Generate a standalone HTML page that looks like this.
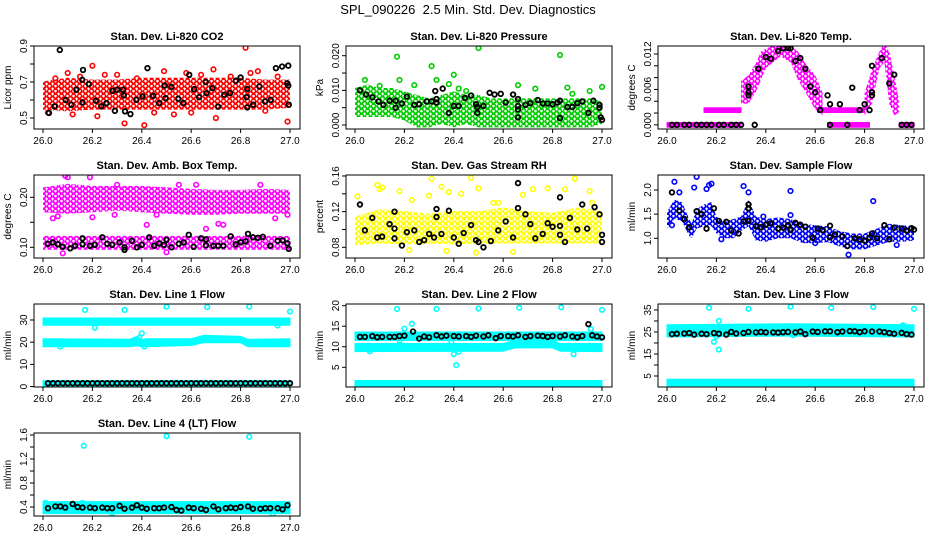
<!DOCTYPE html>
<html><head><meta charset="utf-8"><style>
body{margin:0;background:#fff;}
svg{display:block;font-family:"Liberation Sans",sans-serif;}
</style></head><body>
<svg id="chart" width="936" height="540" viewBox="0 0 936 540">
<rect width="936" height="540" fill="#fff"/>
<text x="468" y="14" text-anchor="middle" font-size="13">SPL_090226&#160; 2.5 Min. Std. Dev. Diagnostics</text>
</svg>
<script>
// ---------- shared ----------
const xTicks=[26.0,26.2,26.4,26.6,26.8,27.0];
// ---------- panel 1: CO2 ----------
const p1BandX=[26.0,26.1,26.2,26.3,26.4,26.5,26.6,26.7,26.8,26.9,27.0];
const p1BandLo=[0.56,0.55,0.56,0.56,0.56,0.56,0.56,0.56,0.56,0.56,0.57];
const p1BandHi=[0.69,0.71,0.70,0.70,0.71,0.71,0.71,0.71,0.71,0.70,0.70];
const p1OutX=[26.05,26.1,26.2,26.25,26.33,26.41,26.49,26.58,26.69,26.82,26.84,26.87,26.99,26.7,26.02,26.22,26.45,26.6,26.9,26.3,26.15,26.76,26.12,26.38,26.53,26.64,26.95];
const p1OutY=[0.72,0.75,0.79,0.74,0.47,0.46,0.76,0.75,0.77,0.89,0.75,0.76,0.48,0.50,0.53,0.51,0.53,0.53,0.54,0.74,0.73,0.73,0.52,0.72,0.52,0.74,0.73];
const p1BlkX=[26.068,26.024,26.047,26.092,26.115,26.135,26.162,26.159,26.16,26.186,26.214,26.236,26.257,26.281,26.291,26.3,26.324,26.327,26.332,26.354,26.378,26.403,26.423,26.446,26.47,26.493,26.496,26.52,26.547,26.568,26.592,26.612,26.632,26.659,26.662,26.686,26.709,26.734,26.757,26.781,26.8,26.824,26.827,26.827,26.851,26.876,26.899,26.922,26.943,26.968,26.993,26.989,26.993,26.995];
const p1BlkY=[0.878,0.528,0.565,0.60,0.574,0.657,0.767,0.712,0.587,0.688,0.596,0.565,0.583,0.651,0.54,0.657,0.657,0.625,0.537,0.522,0.601,0.62,0.777,0.623,0.583,0.68,0.61,0.673,0.607,0.583,0.74,0.66,0.616,0.70,0.638,0.666,0.563,0.629,0.638,0.707,0.725,0.616,0.662,0.559,0.574,0.675,0.592,0.601,0.777,0.786,0.791,0.693,0.68,0.574];
// ---------- panel 2: pressure ----------
const p2BandX=[26.0,26.05,26.1,26.15,26.2,26.25,26.3,26.35,26.4,26.45,26.5,26.55,26.6,26.65,26.7,26.75,26.8,26.85,26.9,26.95,27.0];
const p2BandLo=[0.003,0.003,0.003,0.003,0.002,0.000,0.000,0.001,0.000,0.001,0.000,0.000,0.000,0.000,0.000,0.000,0.000,0.000,0.000,0.000,0.001];
const p2BandHi=[0.010,0.011,0.010,0.010,0.009,0.008,0.007,0.008,0.009,0.008,0.008,0.007,0.007,0.007,0.007,0.007,0.007,0.007,0.007,0.007,0.006];
const p2OutX=[26.17,26.31,26.5,26.83,26.4,26.04,26.18,26.33,26.24,26.66,26.73,26.86,27.0,26.42,26.95,26.1,26.38,26.45,26.88];
const p2OutY=[0.0197,0.0170,0.0222,0.0202,0.0145,0.0130,0.0130,0.0130,0.0115,0.0115,0.0105,0.0108,0.0110,0.0105,0.0098,0.0113,0.0118,0.0098,0.0090];
const p2BlkX=[26.02,26.045,26.07,26.095,26.115,26.14,26.165,26.165,26.19,26.21,26.24,26.26,26.29,26.31,26.325,26.33,26.33,26.355,26.38,26.4,26.42,26.445,26.47,26.49,26.495,26.495,26.52,26.545,26.565,26.59,26.61,26.64,26.66,26.66,26.66,26.66,26.69,26.71,26.74,26.76,26.78,26.8,26.82,26.83,26.83,26.86,26.88,26.9,26.92,26.945,26.965,26.99,26.99,26.995,27.0];
const p2BlkY=[0.0100,0.0088,0.0080,0.0068,0.0058,0.0070,0.0070,0.0050,0.0062,0.0082,0.0058,0.0060,0.0068,0.0068,0.0098,0.0075,0.0065,0.0105,0.0035,0.0055,0.0055,0.0078,0.0085,0.0060,0.0052,0.0035,0.0055,0.0093,0.0088,0.0090,0.0065,0.0088,0.0075,0.0055,0.0045,0.0022,0.0058,0.0063,0.0072,0.0062,0.0062,0.0060,0.0065,0.0070,0.0020,0.0052,0.0052,0.0063,0.0068,0.0035,0.0070,0.0058,0.0050,0.0022,0.0015];
// ---------- panel 3: Li-820 temp (several segments) ----------
const p3Seg1X=[26.0,26.3], p3Seg1Lo=[0,0], p3Seg1Hi=[0,0];
const p3Seg2X=[26.15,26.3], p3Seg2Lo=[0.0025,0.0025], p3Seg2Hi=[0.0025,0.0025];
const p3Seg3X=[26.3,26.33,26.36,26.38,26.4,26.43,26.46,26.5,26.53,26.56,26.6,26.63];
const p3Seg3Lo=[0.004,0.004,0.006,0.008,0.010,0.011,0.012,0.011,0.008,0.006,0.003,0.002];
const p3Seg3Hi=[0.007,0.008,0.010,0.012,0.0125,0.013,0.013,0.013,0.012,0.010,0.008,0.005];
const p3Seg4X=[26.61,26.8], p3Seg4Lo=[0.0025,0.0025], p3Seg4Hi=[0.0025,0.0025];
const p3Seg5X=[26.65,26.82], p3Seg5Lo=[0,0], p3Seg5Hi=[0,0];
const p3Seg6X=[26.8,26.83,26.86,26.88,26.9,26.92,26.94];
const p3Seg6Lo=[0.002,0.004,0.010,0.011,0.004,0.002,0.0025];
const p3Seg6Hi=[0.005,0.009,0.012,0.0135,0.012,0.008,0.0035];
const p3Seg7X=[26.94,27.0], p3Seg7Lo=[0,0], p3Seg7Hi=[0,0];
const p3BlkX=[26.02,26.04,26.07,26.09,26.12,26.14,26.16,26.18,26.21,26.23,26.26,26.28,26.3,26.355,26.33,26.33,26.33,26.37,26.4,26.42,26.45,26.47,26.49,26.5,26.52,26.54,26.56,26.58,26.6,26.62,26.65,26.66,26.66,26.7,26.73,26.75,26.78,26.8,26.82,26.83,26.83,26.83,26.87,26.9,26.92,26.95,26.97,26.99];
const p3BlkY=[0,0,0,0,0,0,0,0,0,0,0,0,0,0,0.0065,0.0050,0.0055,0.0095,0.0115,0.0112,0.0125,0.013,0.013,0.013,0.0108,0.0113,0.0095,0.0065,0.0055,0.0025,0.0050,0.0035,0,0.0035,0,0.0063,0.0025,0.0035,0.0025,0.0050,0.0055,0.0100,0.0113,0.0070,0.0085,0,0,0];
// ---------- panel 4: amb box temp ----------
const p4UpX=[26.0,26.1,26.2,26.3,26.4,26.5,26.6,26.7,26.8,26.9,27.0];
const p4UpLo=[0.175,0.172,0.175,0.178,0.175,0.172,0.170,0.170,0.172,0.172,0.172];
const p4UpHi=[0.215,0.222,0.218,0.218,0.218,0.215,0.212,0.210,0.210,0.212,0.210];
const p4LoX=[26.0,27.0], p4LoLo=[0.100,0.100], p4LoHi=[0.118,0.118];
const p4OutX=[26.1,26.09,26.19,26.04,26.06,26.29,26.46,26.62,26.71,26.73,26.66,26.94,26.99,26.3,26.55,26.08,26.5,26.88,26.2,26.42];
const p4OutY=[0.240,0.243,0.240,0.158,0.162,0.165,0.165,0.225,0.147,0.145,0.137,0.158,0.165,0.225,0.225,0.088,0.090,0.225,0.160,0.145];
const p4BlkX=[26.02,26.04,26.06,26.08,26.11,26.13,26.16,26.16,26.19,26.21,26.24,26.26,26.28,26.31,26.33,26.33,26.36,26.38,26.4,26.43,26.45,26.47,26.49,26.5,26.52,26.55,26.57,26.59,26.61,26.64,26.66,26.66,26.69,26.71,26.73,26.76,26.78,26.8,26.82,26.83,26.85,26.87,26.89,26.92,26.95,26.97,26.99,26.995];
const p4BlkY=[0.107,0.110,0.106,0.101,0.098,0.103,0.118,0.106,0.103,0.105,0.120,0.107,0.105,0.110,0.095,0.100,0.113,0.100,0.105,0.120,0.103,0.108,0.105,0.115,0.100,0.107,0.110,0.125,0.101,0.118,0.116,0.104,0.103,0.103,0.103,0.122,0.106,0.110,0.112,0.127,0.120,0.119,0.121,0.103,0.113,0.114,0.108,0.097];
// ---------- panel 5: gas stream RH ----------
const p5BandX=[26.0,26.1,26.2,26.3,26.4,26.5,26.6,26.7,26.8,26.9,27.0];
const p5BandLo=[0.085,0.087,0.086,0.087,0.086,0.087,0.087,0.087,0.087,0.087,0.087];
const p5BandHi=[0.112,0.120,0.118,0.115,0.118,0.118,0.122,0.118,0.116,0.122,0.118];
const p5OutX=[26.01,26.09,26.1,26.11,26.18,26.23,26.3,26.31,26.35,26.38,26.43,26.47,26.5,26.56,26.68,26.72,26.78,26.85,26.89,26.95,26.96,26.49,26.64,26.37,26.22,26.58];
const p5OutY=[0.137,0.150,0.145,0.147,0.143,0.133,0.138,0.157,0.148,0.142,0.140,0.158,0.146,0.130,0.139,0.145,0.146,0.145,0.157,0.143,0.130,0.074,0.075,0.076,0.077,0.130];
const p5BlkX=[26.02,26.04,26.07,26.09,26.11,26.14,26.16,26.16,26.16,26.19,26.21,26.24,26.26,26.28,26.3,26.32,26.33,26.33,26.35,26.38,26.4,26.42,26.44,26.47,26.49,26.5,26.52,26.55,26.58,26.61,26.64,26.66,26.66,26.69,26.71,26.73,26.76,26.78,26.8,26.83,26.83,26.83,26.85,26.87,26.9,26.92,26.94,26.97,26.99,27.0,27.0];
const p5BlkY=[0.128,0.099,0.113,0.091,0.092,0.106,0.120,0.101,0.090,0.082,0.097,0.099,0.086,0.088,0.095,0.091,0.123,0.114,0.095,0.121,0.091,0.084,0.096,0.105,0.088,0.086,0.080,0.087,0.099,0.109,0.091,0.152,0.124,0.117,0.106,0.090,0.095,0.107,0.103,0.136,0.104,0.094,0.086,0.113,0.100,0.128,0.101,0.125,0.117,0.094,0.086];
// ---------- panel 6: sample flow ----------
const p6BandX=[26.0,26.03,26.06,26.09,26.1,26.12,26.15,26.18,26.2,26.23,26.27,26.3,26.33,26.36,26.4,26.45,26.5,26.55,26.6,26.65,26.7,26.75,26.8,26.85,26.9,26.95,27.0];
const p6BandLo=[1.25,1.45,1.40,1.10,1.05,1.25,1.30,1.30,1.15,1.05,1.05,1.20,1.30,1.00,0.98,1.05,1.05,0.95,0.95,0.97,0.88,0.82,0.82,0.90,0.98,0.98,1.00];
const p6BandHi=[1.50,1.75,1.70,1.35,1.25,1.55,1.65,1.70,1.40,1.30,1.35,1.40,1.75,1.40,1.35,1.38,1.35,1.25,1.22,1.20,1.10,1.05,1.05,1.15,1.25,1.22,1.20];
const p6OutX=[26.03,26.05,26.11,26.12,26.16,26.17,26.18,26.31,26.33,26.5,26.5,26.39,26.835,26.735,26.02,26.22,26.6,26.93];
const p6OutY=[2.17,1.95,2.05,2.27,2.02,2.10,2.13,2.08,1.95,1.98,1.48,1.45,1.77,0.66,1.27,0.98,0.90,0.86];
const p6BlkX=[26.02,26.05,26.07,26.09,26.12,26.14,26.16,26.19,26.21,26.24,26.26,26.29,26.31,26.33,26.33,26.33,26.36,26.38,26.4,26.42,26.45,26.47,26.49,26.5,26.52,26.54,26.56,26.59,26.61,26.63,26.66,26.66,26.68,26.71,26.73,26.76,26.78,26.8,26.82,26.83,26.85,26.88,26.9,26.92,26.95,26.97,26.99,27.0];
const p6BlkY=[1.95,1.57,1.40,1.23,1.56,1.50,1.20,1.62,1.36,1.34,1.16,1.10,1.35,1.70,1.62,1.36,1.25,1.23,1.28,1.31,1.20,1.22,1.27,1.17,1.32,1.28,1.24,1.01,1.20,1.17,1.26,1.02,1.08,1.04,0.84,1.00,0.98,0.95,1.01,1.10,1.00,1.27,0.98,1.22,1.20,1.16,1.21,1.18];
// ---------- panel 7: line 1 flow ----------
const p7TopX=[26.0,27.0], p7TopLo=[28.7,28.7], p7TopHi=[29.8,29.8];
const p7MidX=[26.0,26.35,26.38,26.4,26.42,26.6,26.65,26.8,26.83,27.0];
const p7MidLo=[19.0,19.0,19.5,19.0,19.0,19.6,20.8,20.8,19.0,19.0];
const p7MidHi=[20.5,20.2,21.5,20.0,20.5,20.5,22.0,21.5,20.2,20.5];
const p7BotX=[26.0,27.0], p7BotLo=[1.3,1.3], p7BotHi=[1.6,1.6];
const p7OutX=[26.17,26.33,26.5,26.665,26.835,27.0,26.21,26.4,26.39,26.95,26.07,26.41];
const p7OutY=[34.5,34.5,36,35.8,36,33.8,26.5,24,22,27.5,18,18];
const p7BlkX=[26.02,26.04,26.06,26.08,26.1,26.12,26.14,26.16,26.18,26.2,26.22,26.24,26.26,26.28,26.3,26.32,26.34,26.36,26.38,26.4,26.42,26.44,26.46,26.48,26.5,26.52,26.54,26.56,26.58,26.6,26.62,26.64,26.66,26.68,26.7,26.72,26.74,26.76,26.78,26.8,26.82,26.84,26.86,26.88,26.9,26.92,26.94,26.96,26.98,27.0];
const p7BlkY=[1.5,1.5,1.5,1.5,1.5,1.5,1.5,1.5,1.5,1.5,1.5,1.5,1.5,1.5,1.5,1.5,1.5,1.5,1.5,1.5,1.5,1.5,1.5,1.5,1.5,1.5,1.5,1.5,1.5,1.5,1.5,1.5,1.5,1.5,1.5,1.5,1.5,1.5,1.5,1.5,1.5,1.5,1.5,1.5,1.5,1.5,1.5,1.5,1.5,1.5];
// ---------- panel 8: line 2 flow ----------
const p8TopX=[26.0,27.0], p8TopLo=[12.1,12.1], p8TopHi=[13.0,13.0];
const p8MidX=[26.0,26.6,26.65,26.8,26.83,27.0], p8MidLo=[9.4,9.5,10.3,10.3,9.5,9.4], p8MidHi=[10.2,10.2,11.0,11.0,10.2,10.2];
const p8BotX=[26.0,27.0], p8BotLo=[0.7,0.7], p8BotHi=[1.2,1.2];
const p8OutX=[26.17,26.33,26.5,26.665,26.835,27.0,26.23,26.2,26.4,26.41,26.42,26.885,26.955,26.39,26.18,26.06];
const p8OutY=[19.2,19.2,19.3,19.5,19.6,19.0,15.6,14.4,8.2,5.5,8.8,8.2,14.3,11.0,11.5,8.9];
const p8BlkX=[26.02,26.04,26.07,26.09,26.11,26.14,26.16,26.18,26.2,26.235,26.26,26.28,26.3,26.33,26.35,26.37,26.4,26.42,26.45,26.47,26.49,26.52,26.54,26.57,26.59,26.62,26.64,26.66,26.69,26.71,26.74,26.76,26.78,26.8,26.83,26.85,26.88,26.9,26.92,26.945,26.96,26.98,27.0];
const p8BlkY=[12.4,12.4,12.6,12.3,12.4,12.4,12.4,12.6,12.7,13.7,12.0,12.5,12.3,12.8,12.5,12.7,12.6,12.5,12.6,12.4,12.7,12.5,12.8,12.1,12.6,12.6,12.5,12.8,12.4,12.6,12.7,12.6,12.4,12.6,12.5,12.8,12.5,12.3,12.6,15.5,12.8,12.5,12.3];
// ---------- panel 9: line 3 flow ----------
const p9TopX=[26.0,26.5,27.0], p9TopLo=[23.8,24.2,23.8], p9TopHi=[27.2,27.6,27.2];
const p9BotX=[26.0,27.0], p9BotLo=[1.6,1.6], p9BotHi=[2.4,2.4];
const p9OutX=[26.17,26.33,26.5,26.665,26.835,27.0,26.21,26.19,26.21,26.2,26.955,26.51];
const p9OutY=[36,35.5,36.5,36,36.3,35.5,30,20.5,17,23,28,23.5];
const p9BlkX=[26.02,26.04,26.07,26.09,26.11,26.14,26.16,26.19,26.21,26.24,26.26,26.28,26.31,26.33,26.36,26.38,26.4,26.43,26.45,26.47,26.49,26.52,26.54,26.56,26.59,26.61,26.64,26.66,26.69,26.71,26.74,26.76,26.78,26.8,26.83,26.86,26.88,26.9,26.92,26.95,26.97,26.99];
const p9BlkY=[24.0,24.2,24.3,24.5,23.8,24.2,24.0,24.5,24.2,23.8,25.0,24.3,24.5,25.0,24.8,25.0,24.8,24.8,24.7,24.9,25.0,24.8,25.2,24.0,25.2,25.0,25.3,25.3,24.9,25.2,25.4,25.3,24.9,25.3,25.2,25.2,24.9,24.5,24.2,24.6,24.0,23.8];
// ---------- panel 10: line 4 flow ----------
const p10BandX=[26.0,27.0], p10BandLo=[0.33,0.33], p10BandHi=[0.45,0.45];
const p10OutX=[26.165,26.5,26.835,26.93,26.28,26.01,26.16];
const p10OutY=[1.42,1.58,1.57,0.29,0.30,0.47,0.47];
const p10BlkX=[26.02,26.05,26.07,26.09,26.12,26.14,26.16,26.19,26.21,26.24,26.26,26.28,26.31,26.33,26.36,26.38,26.4,26.42,26.45,26.47,26.49,26.52,26.54,26.56,26.59,26.61,26.64,26.66,26.69,26.71,26.74,26.76,26.78,26.8,26.83,26.85,26.88,26.9,26.92,26.95,26.97,26.99];
const p10BlkY=[0.38,0.41,0.41,0.39,0.45,0.40,0.39,0.39,0.38,0.39,0.38,0.38,0.42,0.37,0.39,0.43,0.39,0.37,0.38,0.38,0.39,0.40,0.35,0.34,0.39,0.38,0.37,0.35,0.41,0.36,0.38,0.39,0.38,0.40,0.41,0.37,0.37,0.38,0.38,0.38,0.36,0.43];

const yTicks1=[0.5,0.6,0.7,0.8,0.9], yLab1=['0.5','','0.7','','0.9'];
const yTicks2=[0,0.005,0.01,0.015,0.02], yLab2=['0.000','','0.010','','0.020'];
const yTicks3=[0,0.002,0.004,0.006,0.008,0.010,0.012], yLab3=['0.000','','','0.006','','','0.012'];
const yTicks4=[0.10,0.15,0.20], yLab4=['0.10','','0.20'];
const yTicks5=[0.08,0.10,0.12,0.14,0.16], yLab5=['0.08','','0.12','','0.16'];
const yTicks6=[1.0,1.5,2.0], yLab6=['1.0','1.5','2.0'];
const yTicks7=[0,10,20,30], yLab7=['0','10','20','30'];
const yTicks8=[5,10,15,20], yLab8=['5','10','15','20'];
const yTicks9=[5,10,15,20,25,30,35], yLab9=['5','','15','','25','','35'];
const yTicks10=[0.4,0.6,0.8,1.0,1.2,1.4,1.6], yLab10=['0.4','','0.8','','1.2','','1.6'];

const NS='http://www.w3.org/2000/svg';
const svg=document.getElementById('chart');
function mk(tag,attrs,parent){const e=document.createElementNS(NS,tag);for(const k in attrs)e.setAttribute(k,attrs[k]);(parent||svg).appendChild(e);return e;}

const panels=[
 {col:0,row:0,title:'Stan. Dev. Li-820 CO2',ylab:'Licor ppm',ylim:[0.439,0.9],color:'#ff0000',yt:yTicks1,yl:yLab1,bands:[[p1BandX,p1BandLo,p1BandHi,0]],out:[p1OutX,p1OutY],blk:[p1BlkX,p1BlkY]},
 {col:1,row:0,title:'Stan. Dev. Li-820 Pressure',ylab:'kPa',ylim:[-0.00115,0.0228],color:'#00cc00',yt:yTicks2,yl:yLab2,bands:[[p2BandX,p2BandLo,p2BandHi,0]],out:[p2OutX,p2OutY],blk:[p2BlkX,p2BlkY]},
 {col:2,row:0,title:'Stan. Dev. Li-820 Temp.',ylab:'degrees C',ylim:[-0.0007,0.01335],color:'#ff00ff',yt:yTicks3,yl:yLab3,bands:[[p3Seg1X,p3Seg1Lo,p3Seg1Hi,1],[p3Seg2X,p3Seg2Lo,p3Seg2Hi,1],[p3Seg3X,p3Seg3Lo,p3Seg3Hi,0],[p3Seg4X,p3Seg4Lo,p3Seg4Hi,1],[p3Seg5X,p3Seg5Lo,p3Seg5Hi,1],[p3Seg6X,p3Seg6Lo,p3Seg6Hi,0],[p3Seg7X,p3Seg7Lo,p3Seg7Hi,1]],out:[[],[]],blk:[p3BlkX,p3BlkY]},
 {col:0,row:1,title:'Stan. Dev. Amb. Box Temp.',ylab:'degrees C',ylim:[0.0786,0.2446],color:'#ff00ff',yt:yTicks4,yl:yLab4,bands:[[p4UpX,p4UpLo,p4UpHi,0],[p4LoX,p4LoLo,p4LoHi,0]],out:[p4OutX,p4OutY],blk:[p4BlkX,p4BlkY]},
 {col:1,row:1,title:'Stan. Dev. Gas Stream RH',ylab:'percent',ylim:[0.068,0.1611],color:'#ffff00',yt:yTicks5,yl:yLab5,bands:[[p5BandX,p5BandLo,p5BandHi,0]],out:[p5OutX,p5OutY],blk:[p5BlkX,p5BlkY]},
 {col:2,row:1,title:'Stan. Dev. Sample Flow',ylab:'ml/min',ylim:[0.592,2.31],color:'#0000ff',yt:yTicks6,yl:yLab6,bands:[[p6BandX,p6BandLo,p6BandHi,0]],out:[p6OutX,p6OutY],blk:[p6BlkX,p6BlkY]},
 {col:0,row:2,title:'Stan. Dev. Line 1 Flow',ylab:'ml/min',ylim:[-0.2,37.2],color:'#00ffff',yt:yTicks7,yl:yLab7,bands:[[p7TopX,p7TopLo,p7TopHi,1],[p7MidX,p7MidLo,p7MidHi,1],[p7BotX,p7BotLo,p7BotHi,1]],out:[p7OutX,p7OutY],blk:[p7BlkX,p7BlkY]},
 {col:1,row:2,title:'Stan. Dev. Line 2 Flow',ylab:'ml/min',ylim:[0.2,20.41],color:'#00ffff',yt:yTicks8,yl:yLab8,bands:[[p8TopX,p8TopLo,p8TopHi,1],[p8MidX,p8MidLo,p8MidHi,1],[p8BotX,p8BotLo,p8BotHi,1]],out:[p8OutX,p8OutY],blk:[p8BlkX,p8BlkY]},
 {col:2,row:2,title:'Stan. Dev. Line 3 Flow',ylab:'ml/min',ylim:[0,37.7],color:'#00ffff',yt:yTicks9,yl:yLab9,bands:[[p9TopX,p9TopLo,p9TopHi,1],[p9BotX,p9BotLo,p9BotHi,1]],out:[p9OutX,p9OutY],blk:[p9BlkX,p9BlkY]},
 {col:0,row:3,title:'Stan. Dev. Line 4 (LT) Flow',ylab:'ml/min',ylim:[0.25,1.633],color:'#00ffff',yt:yTicks10,yl:yLab10,bands:[[p10BandX,p10BandLo,p10BandHi,1]],out:[p10OutX,p10OutY],blk:[p10BlkX,p10BlkY]}
];

const defs=mk('defs',{});
panels.forEach((p,pi)=>{
  const x0=34+312*p.col, x1=x0+266, y0=46+129*p.row, y1=y0+83;
  const xs=v=>x0+9+(v-26)*247;
  const ys=v=>y1-(v-p.ylim[0])/(p.ylim[1]-p.ylim[0])*83;
  // texture pattern of hollow circles
  const pat=mk('pattern',{id:'pat'+pi,width:6,height:5,patternUnits:'userSpaceOnUse'},defs);
  [[1.5,1.2],[4.5,3.7],[-1.5,3.7],[1.5,6.2],[7.5,1.2]].forEach(c=>mk('circle',{cx:c[0],cy:c[1],r:2.1,fill:'none',stroke:p.color,'stroke-width':1.5},pat));
  const g=mk('g',{});
  
  
  const cp=mk('clipPath',{id:'cp'+pi},g);
  mk('rect',{x:x0,y:y0,width:266,height:83},cp);
  const t=mk('text',{x:(x0+x1)/2,y:y0-6,'text-anchor':'middle','font-size':11,'font-weight':'bold'},g);
  t.textContent=p.title;
  
  
  const yl=mk('text',{x:0,y:0,'text-anchor':'middle','font-size':10,transform:`translate(${x0-23},${(y0+y1)/2}) rotate(-90)`},g);
  yl.textContent=p.ylab;
  
  
  const data=mk('g',{'clip-path':`url(#cp${pi})`},g);
  
  
  p.bands.forEach(b=>{
    const [bx,lo,hi,solid]=b;
    let d='';
    for(let i=0;i<bx.length;i++)d+=(i?'L':'M')+xs(bx[i]).toFixed(1)+','+(ys(hi[i])-2.4).toFixed(1);
    for(let i=bx.length-1;i>=0;i--)d+='L'+xs(bx[i]).toFixed(1)+','+(ys(lo[i])+2.4).toFixed(1);
    const pa=solid
      ? mk('path',{d:d+'Z',fill:p.color,stroke:p.color,'stroke-width':1,'stroke-linejoin':'round'},data)
      : mk('path',{d:d+'Z',fill:`url(#pat${pi})`,stroke:'none'},data);
    
    
  });
  const [ox,oy]=p.out;
  for(let i=0;i<ox.length;i++){
    const c=mk('circle',{cx:xs(ox[i]),cy:ys(oy[i]),r:2.3,fill:'none',stroke:p.color,'stroke-width':1.6},data);
    
    
  }
  const [bx,by]=p.blk;
  for(let i=0;i<bx.length;i++){
    const c=mk('circle',{cx:xs(bx[i]),cy:ys(by[i]),r:2.3,fill:'none',stroke:'#000','stroke-width':1.8},data);
    
    
  }
  const box=mk('rect',{x:x0,y:y0,width:266,height:83,fill:'none',stroke:'#000','stroke-width':1},g);
  
  
  const xa=mk('g',{},g);
  
  
  mk('line',{x1:xs(xTicks[0]),x2:xs(xTicks[xTicks.length-1]),y1:y1,y2:y1,stroke:'#000'},xa);
  xTicks.forEach(v=>{
    mk('line',{x1:xs(v),x2:xs(v),y1:y1,y2:y1+4,stroke:'#000'},xa);
    const tt=mk('text',{x:xs(v),y:y1+15,'text-anchor':'middle','font-size':10},xa);
    tt.textContent=v.toFixed(1);
  });
  const ya=mk('g',{},g);
  
  
  mk('line',{x1:x0,x2:x0,y1:ys(p.yt[0]),y2:ys(p.yt[p.yt.length-1]),stroke:'#000'},ya);
  p.yt.forEach((v,i)=>{
    mk('line',{x1:x0-4,x2:x0,y1:ys(v),y2:ys(v),stroke:'#000'},ya);
    if(p.yl[i]){
      const tt=mk('text',{x:0,y:0,'text-anchor':'middle','font-size':10,transform:`translate(${x0-7},${ys(v)}) rotate(-90)`},ya);
      tt.textContent=p.yl[i];
    }
  });
});
</script>
</body></html>
